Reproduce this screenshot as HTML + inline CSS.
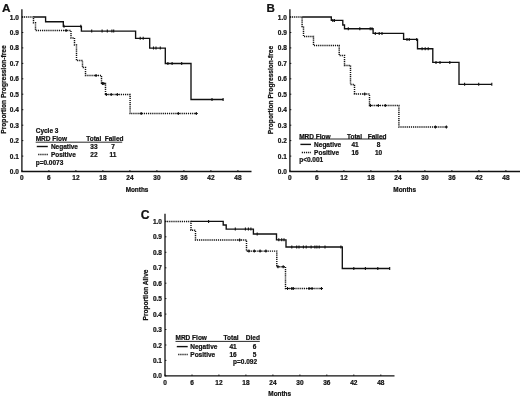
<!DOCTYPE html>
<html><head><meta charset="utf-8"><title>Figure</title>
<style>
html,body{margin:0;padding:0;background:#fff;}
body{width:520px;height:397px;overflow:hidden;}
text{stroke:#111;stroke-width:0.22px;}
svg{display:block;will-change:transform;transform:translateZ(0);font-family:"Liberation Sans",sans-serif;fill:#111;}
</style></head><body>
<svg width="520" height="397" viewBox="0 0 520 397">
<rect x="0" y="0" width="520" height="397" fill="#fff"/>
<path d="M21.9,9.2V171.5H251.5" fill="none" stroke="#111" stroke-width="1.3"/>
<text x="18.9" y="174.0" font-size="6.5" text-anchor="end" font-weight="bold" >0.0</text>
<text x="18.9" y="158.6" font-size="6.5" text-anchor="end" font-weight="bold" >0.1</text>
<text x="18.9" y="143.1" font-size="6.5" text-anchor="end" font-weight="bold" >0.2</text>
<text x="18.9" y="127.7" font-size="6.5" text-anchor="end" font-weight="bold" >0.3</text>
<text x="18.9" y="112.2" font-size="6.5" text-anchor="end" font-weight="bold" >0.4</text>
<text x="18.9" y="96.8" font-size="6.5" text-anchor="end" font-weight="bold" >0.5</text>
<text x="18.9" y="81.3" font-size="6.5" text-anchor="end" font-weight="bold" >0.6</text>
<text x="18.9" y="65.9" font-size="6.5" text-anchor="end" font-weight="bold" >0.7</text>
<text x="18.9" y="50.4" font-size="6.5" text-anchor="end" font-weight="bold" >0.8</text>
<text x="18.9" y="35.0" font-size="6.5" text-anchor="end" font-weight="bold" >0.9</text>
<text x="18.9" y="19.5" font-size="6.5" text-anchor="end" font-weight="bold" >1.0</text>
<text x="21.9" y="180.4" font-size="6.5" text-anchor="middle" font-weight="bold" >0</text>
<text x="48.9" y="180.4" font-size="6.5" text-anchor="middle" font-weight="bold" >6</text>
<text x="75.9" y="180.4" font-size="6.5" text-anchor="middle" font-weight="bold" >12</text>
<text x="102.9" y="180.4" font-size="6.5" text-anchor="middle" font-weight="bold" >18</text>
<text x="129.9" y="180.4" font-size="6.5" text-anchor="middle" font-weight="bold" >24</text>
<text x="156.9" y="180.4" font-size="6.5" text-anchor="middle" font-weight="bold" >30</text>
<text x="183.9" y="180.4" font-size="6.5" text-anchor="middle" font-weight="bold" >36</text>
<text x="210.9" y="180.4" font-size="6.5" text-anchor="middle" font-weight="bold" >42</text>
<text x="237.9" y="180.4" font-size="6.5" text-anchor="middle" font-weight="bold" >48</text>
<path d="M21.9,171.5h1.4M21.9,156.1h1.4M21.9,140.6h1.4M21.9,125.2h1.4M21.9,109.7h1.4M21.9,94.2h1.4M21.9,78.8h1.4M21.9,63.4h1.4M21.9,47.9h1.4M21.9,32.5h1.4M21.9,17.0h1.4M21.9,171.5v-1.4M48.9,171.5v-1.4M75.9,171.5v-1.4M102.9,171.5v-1.4M129.9,171.5v-1.4M156.9,171.5v-1.4M183.9,171.5v-1.4M210.9,171.5v-1.4M237.9,171.5v-1.4" fill="none" stroke="#111" stroke-width="1.0"/>
<text x="137.0" y="191.6" font-size="6.4" text-anchor="middle" font-weight="bold" >Months</text>
<text transform="translate(6.0,89.5) rotate(-90)" font-size="6.6" text-anchor="middle" font-weight="bold">Proportion Progression-free</text>
<text x="2.0" y="11.9" font-size="11.8" text-anchor="start" font-weight="bold" >A</text>
<path d="M21.9,17.0 L33.5,17.0 L33.5,22.8 L35.5,22.8 L35.5,30.5 L71.0,30.5 L71.0,37.9 L74.5,37.9 L74.5,45.0 L76.5,45.0 L76.5,60.5 L82.5,60.5 L82.5,67.5 L85.5,67.5 L85.5,75.5 L101.5,75.5 L101.5,83.5 L105.5,83.5 L105.5,94.5 L130.1,94.5 L130.1,113.5 L196.5,113.5" fill="none" stroke="#111" stroke-width="1.45" stroke-dasharray="1.2 0.9"/>
<path d="M33.6,17.0 L45.6,17.0 L45.6,21.7 L63.3,21.7 L63.3,26.3 L81.4,26.3 L81.4,31.1 L135.6,31.1 L135.6,38.3 L149.7,38.3 L149.7,48.1 L165.3,48.1 L165.3,63.5 L191.0,63.5 L191.0,99.5 L223.3,99.5" fill="none" stroke="#111" stroke-width="1.35" stroke-linejoin="miter"/>
<path d="M64.0,24.8V27.8M80.8,24.8V27.8" fill="none" stroke="#111" stroke-width="1.1"/>
<path d="M91.7,29.6V32.6M102.1,29.6V32.6M107.3,29.6V32.6M111.9,29.6V32.6M113.7,29.6V32.6" fill="none" stroke="#111" stroke-width="1.1"/>
<path d="M140.2,36.8V39.8M143.2,36.8V39.8" fill="none" stroke="#111" stroke-width="1.1"/>
<path d="M153.5,46.6V49.6M156.0,46.6V49.6M160.3,46.6V49.6" fill="none" stroke="#111" stroke-width="1.1"/>
<path d="M167.9,62.0V65.0M172.1,62.0V65.0M181.7,62.0V65.0" fill="none" stroke="#111" stroke-width="1.1"/>
<path d="M212.0,98.0V101.0M223.1,98.0V101.0" fill="none" stroke="#111" stroke-width="1.1"/>
<path d="M66.1,29.0V32.0M64.6,30.5H67.6" fill="none" stroke="#111" stroke-width="1.1"/>
<path d="M96.0,74.0V77.0M94.5,75.5H97.5" fill="none" stroke="#111" stroke-width="1.1"/>
<path d="M102.4,82.0V85.0M100.9,83.5H103.9M103.8,82.0V85.0M102.3,83.5H105.3" fill="none" stroke="#111" stroke-width="1.1"/>
<path d="M106.3,93.0V96.0M104.8,94.5H107.8M111.2,93.0V96.0M109.7,94.5H112.7M117.3,93.0V96.0M115.8,94.5H118.8" fill="none" stroke="#111" stroke-width="1.1"/>
<path d="M141.2,112.0V115.0M139.7,113.5H142.7M178.3,112.0V115.0M176.8,113.5H179.8M196.3,112.0V115.0M194.8,113.5H197.8" fill="none" stroke="#111" stroke-width="1.1"/>
<text x="35.7" y="133.1" font-size="6.5" text-anchor="start" font-weight="bold" >Cycle 3</text>
<text x="35.7" y="140.9" font-size="6.5" text-anchor="start" font-weight="bold" >MRD Flow</text>
<text x="86.2" y="140.9" font-size="6.5" text-anchor="start" font-weight="bold" >Total</text>
<text x="104.7" y="140.9" font-size="6.5" text-anchor="start" font-weight="bold" >Failed</text>
<path d="M35.7,142.2H122.2" stroke="#111" stroke-width="0.9"/>
<path d="M36.8,146.5H47.8" stroke="#111" stroke-width="1.4"/>
<text x="50.9" y="148.9" font-size="6.5" text-anchor="start" font-weight="bold" >Negative</text>
<text x="93.9" y="148.9" font-size="6.5" text-anchor="middle" font-weight="bold" >33</text>
<text x="113.0" y="148.9" font-size="6.5" text-anchor="middle" font-weight="bold" >7</text>
<path d="M38.2,154.5H47.8" stroke="#111" stroke-width="1.4" stroke-dasharray="1.2 0.9"/>
<text x="50.9" y="157.2" font-size="6.5" text-anchor="start" font-weight="bold" >Positive</text>
<text x="93.9" y="157.2" font-size="6.5" text-anchor="middle" font-weight="bold" >22</text>
<text x="113.0" y="157.2" font-size="6.5" text-anchor="middle" font-weight="bold" >11</text>
<text x="35.7" y="165.2" font-size="6.5" text-anchor="start" font-weight="bold" >p=0.0073</text>
<path d="M289.9,9.2V171.5H520.0" fill="none" stroke="#111" stroke-width="1.3"/>
<text x="286.9" y="174.0" font-size="6.5" text-anchor="end" font-weight="bold" >0.0</text>
<text x="286.9" y="158.6" font-size="6.5" text-anchor="end" font-weight="bold" >0.1</text>
<text x="286.9" y="143.1" font-size="6.5" text-anchor="end" font-weight="bold" >0.2</text>
<text x="286.9" y="127.7" font-size="6.5" text-anchor="end" font-weight="bold" >0.3</text>
<text x="286.9" y="112.2" font-size="6.5" text-anchor="end" font-weight="bold" >0.4</text>
<text x="286.9" y="96.8" font-size="6.5" text-anchor="end" font-weight="bold" >0.5</text>
<text x="286.9" y="81.3" font-size="6.5" text-anchor="end" font-weight="bold" >0.6</text>
<text x="286.9" y="65.9" font-size="6.5" text-anchor="end" font-weight="bold" >0.7</text>
<text x="286.9" y="50.4" font-size="6.5" text-anchor="end" font-weight="bold" >0.8</text>
<text x="286.9" y="35.0" font-size="6.5" text-anchor="end" font-weight="bold" >0.9</text>
<text x="286.9" y="19.5" font-size="6.5" text-anchor="end" font-weight="bold" >1.0</text>
<text x="289.9" y="180.4" font-size="6.5" text-anchor="middle" font-weight="bold" >0</text>
<text x="316.9" y="180.4" font-size="6.5" text-anchor="middle" font-weight="bold" >6</text>
<text x="343.9" y="180.4" font-size="6.5" text-anchor="middle" font-weight="bold" >12</text>
<text x="370.9" y="180.4" font-size="6.5" text-anchor="middle" font-weight="bold" >18</text>
<text x="397.9" y="180.4" font-size="6.5" text-anchor="middle" font-weight="bold" >24</text>
<text x="424.9" y="180.4" font-size="6.5" text-anchor="middle" font-weight="bold" >30</text>
<text x="451.9" y="180.4" font-size="6.5" text-anchor="middle" font-weight="bold" >36</text>
<text x="478.9" y="180.4" font-size="6.5" text-anchor="middle" font-weight="bold" >42</text>
<text x="505.9" y="180.4" font-size="6.5" text-anchor="middle" font-weight="bold" >48</text>
<path d="M289.9,171.5h1.4M289.9,156.1h1.4M289.9,140.6h1.4M289.9,125.2h1.4M289.9,109.7h1.4M289.9,94.2h1.4M289.9,78.8h1.4M289.9,63.4h1.4M289.9,47.9h1.4M289.9,32.5h1.4M289.9,17.0h1.4M289.9,171.5v-1.4M316.9,171.5v-1.4M343.9,171.5v-1.4M370.9,171.5v-1.4M397.9,171.5v-1.4M424.9,171.5v-1.4M451.9,171.5v-1.4M478.9,171.5v-1.4M505.9,171.5v-1.4" fill="none" stroke="#111" stroke-width="1.0"/>
<text x="404.7" y="191.6" font-size="6.4" text-anchor="middle" font-weight="bold" >Months</text>
<text transform="translate(273.2,90.0) rotate(-90)" font-size="6.6" text-anchor="middle" font-weight="bold">Proportion Progression-free</text>
<text x="266.6" y="11.9" font-size="11.6" text-anchor="start" font-weight="bold" >B</text>
<path d="M289.9,17.0 L302.1,17.0 L302.1,26.5 L303.5,26.5 L303.5,36.5 L313.5,36.5 L313.5,45.5 L339.2,45.5 L339.2,55.5 L344.5,55.5 L344.5,65.5 L350.5,65.5 L350.5,84.5 L354.5,84.5 L354.5,94.0 L369.5,94.0 L369.5,105.5 L398.9,105.5 L398.9,127.0 L446.5,127.0" fill="none" stroke="#111" stroke-width="1.45" stroke-dasharray="1.2 0.9"/>
<path d="M302.1,17.0 L331.3,17.0 L331.3,20.4 L342.8,20.4 L342.8,25.0 L344.5,25.0 L344.5,28.7 L373.1,28.7 L373.1,33.4 L403.6,33.4 L403.6,39.4 L417.5,39.4 L417.5,48.7 L432.8,48.7 L432.8,62.4 L459.0,62.4 L459.0,84.3 L491.8,84.3" fill="none" stroke="#111" stroke-width="1.35" stroke-linejoin="miter"/>
<path d="M332.8,18.9V21.9M334.4,18.9V21.9" fill="none" stroke="#111" stroke-width="1.1"/>
<path d="M348.3,27.2V30.2M359.8,27.2V30.2M370.2,27.2V30.2M372.0,27.2V30.2" fill="none" stroke="#111" stroke-width="1.1"/>
<path d="M375.3,31.9V34.9M379.2,31.9V34.9M382.0,31.9V34.9" fill="none" stroke="#111" stroke-width="1.1"/>
<path d="M407.0,37.9V40.9M409.2,37.9V40.9M416.7,37.9V40.9" fill="none" stroke="#111" stroke-width="1.1"/>
<path d="M422.1,47.2V50.2M425.2,47.2V50.2M428.2,47.2V50.2" fill="none" stroke="#111" stroke-width="1.1"/>
<path d="M436.0,60.9V63.9M440.0,60.9V63.9M449.8,60.9V63.9" fill="none" stroke="#111" stroke-width="1.1"/>
<path d="M464.6,82.8V85.8M478.7,82.8V85.8M491.8,82.8V85.8" fill="none" stroke="#111" stroke-width="1.1"/>
<path d="M364.7,92.5V95.5M363.2,94.0H366.2" fill="none" stroke="#111" stroke-width="1.1"/>
<path d="M370.4,104.0V107.0M368.9,105.5H371.9M378.3,104.0V107.0M376.8,105.5H379.8M385.3,104.0V107.0M383.8,105.5H386.8" fill="none" stroke="#111" stroke-width="1.1"/>
<path d="M435.4,125.5V128.5M433.9,127.0H436.9M446.4,125.5V128.5M444.9,127.0H447.9" fill="none" stroke="#111" stroke-width="1.1"/>
<text x="299.2" y="138.6" font-size="6.5" text-anchor="start" font-weight="bold" >MRD Flow</text>
<text x="347.0" y="138.6" font-size="6.5" text-anchor="start" font-weight="bold" >Total</text>
<text x="367.7" y="138.6" font-size="6.5" text-anchor="start" font-weight="bold" >Failed</text>
<path d="M299.2,139.0H386.0" stroke="#111" stroke-width="0.9"/>
<path d="M300.4,144.4H311.0" stroke="#111" stroke-width="1.4"/>
<text x="314.1" y="146.8" font-size="6.5" text-anchor="start" font-weight="bold" >Negative</text>
<text x="355.1" y="146.8" font-size="6.5" text-anchor="middle" font-weight="bold" >41</text>
<text x="378.5" y="146.8" font-size="6.5" text-anchor="middle" font-weight="bold" >8</text>
<path d="M301.8,152.5H311.0" stroke="#111" stroke-width="1.4" stroke-dasharray="1.2 0.9"/>
<text x="314.1" y="154.9" font-size="6.5" text-anchor="start" font-weight="bold" >Positive</text>
<text x="355.1" y="154.9" font-size="6.5" text-anchor="middle" font-weight="bold" >16</text>
<text x="378.5" y="154.9" font-size="6.5" text-anchor="middle" font-weight="bold" >10</text>
<text x="299.2" y="162.4" font-size="6.5" text-anchor="start" font-weight="bold" >p&lt;0.001</text>
<path d="M165.0,213.8V375.9H394.5" fill="none" stroke="#111" stroke-width="1.3"/>
<text x="162.0" y="378.4" font-size="6.5" text-anchor="end" font-weight="bold" >0.0</text>
<text x="162.0" y="362.9" font-size="6.5" text-anchor="end" font-weight="bold" >0.1</text>
<text x="162.0" y="347.5" font-size="6.5" text-anchor="end" font-weight="bold" >0.2</text>
<text x="162.0" y="332.0" font-size="6.5" text-anchor="end" font-weight="bold" >0.3</text>
<text x="162.0" y="316.6" font-size="6.5" text-anchor="end" font-weight="bold" >0.4</text>
<text x="162.0" y="301.1" font-size="6.5" text-anchor="end" font-weight="bold" >0.5</text>
<text x="162.0" y="285.7" font-size="6.5" text-anchor="end" font-weight="bold" >0.6</text>
<text x="162.0" y="270.2" font-size="6.5" text-anchor="end" font-weight="bold" >0.7</text>
<text x="162.0" y="254.8" font-size="6.5" text-anchor="end" font-weight="bold" >0.8</text>
<text x="162.0" y="239.3" font-size="6.5" text-anchor="end" font-weight="bold" >0.9</text>
<text x="162.0" y="223.9" font-size="6.5" text-anchor="end" font-weight="bold" >1.0</text>
<text x="165.0" y="385.0" font-size="6.5" text-anchor="middle" font-weight="bold" >0</text>
<text x="192.0" y="385.0" font-size="6.5" text-anchor="middle" font-weight="bold" >6</text>
<text x="218.9" y="385.0" font-size="6.5" text-anchor="middle" font-weight="bold" >12</text>
<text x="245.9" y="385.0" font-size="6.5" text-anchor="middle" font-weight="bold" >18</text>
<text x="272.9" y="385.0" font-size="6.5" text-anchor="middle" font-weight="bold" >24</text>
<text x="299.9" y="385.0" font-size="6.5" text-anchor="middle" font-weight="bold" >30</text>
<text x="326.8" y="385.0" font-size="6.5" text-anchor="middle" font-weight="bold" >36</text>
<text x="353.8" y="385.0" font-size="6.5" text-anchor="middle" font-weight="bold" >42</text>
<text x="380.8" y="385.0" font-size="6.5" text-anchor="middle" font-weight="bold" >48</text>
<path d="M165.0,375.9h1.4M165.0,360.4h1.4M165.0,345.0h1.4M165.0,329.5h1.4M165.0,314.1h1.4M165.0,298.6h1.4M165.0,283.2h1.4M165.0,267.8h1.4M165.0,252.3h1.4M165.0,236.8h1.4M165.0,221.4h1.4M165.0,375.9v-1.4M192.0,375.9v-1.4M218.9,375.9v-1.4M245.9,375.9v-1.4M272.9,375.9v-1.4M299.9,375.9v-1.4M326.8,375.9v-1.4M353.8,375.9v-1.4M380.8,375.9v-1.4" fill="none" stroke="#111" stroke-width="1.0"/>
<text x="279.7" y="395.6" font-size="6.4" text-anchor="middle" font-weight="bold" >Months</text>
<text transform="translate(148.0,295.0) rotate(-90)" font-size="6.6" text-anchor="middle" font-weight="bold">Proportion Alive</text>
<text x="140.8" y="219.0" font-size="12.2" text-anchor="start" font-weight="bold" >C</text>
<path d="M165.0,221.5 L191.0,221.5 L191.0,230.2 L195.5,230.2 L195.5,240.0 L246.5,240.0 L246.5,251.1 L276.8,251.1 L276.8,266.8 L285.5,266.8 L285.5,288.5 L322.1,288.5" fill="none" stroke="#111" stroke-width="1.45" stroke-dasharray="1.2 0.9"/>
<path d="M191.0,221.4 L223.2,221.4 L223.2,225.0 L226.2,225.0 L226.2,229.1 L253.4,229.1 L253.4,234.0 L276.5,234.0 L276.5,239.8 L286.0,239.8 L286.0,247.0 L342.3,247.0 L342.3,268.5 L389.9,268.5" fill="none" stroke="#111" stroke-width="1.35" stroke-linejoin="miter"/>
<path d="M208.6,219.9V222.9" fill="none" stroke="#111" stroke-width="1.1"/>
<path d="M235.3,227.6V230.6M245.4,227.6V230.6M248.4,227.6V230.6M250.9,227.6V230.6" fill="none" stroke="#111" stroke-width="1.1"/>
<path d="M257.2,232.5V235.5" fill="none" stroke="#111" stroke-width="1.1"/>
<path d="M278.8,238.3V241.3M281.7,238.3V241.3M284.0,238.3V241.3" fill="none" stroke="#111" stroke-width="1.1"/>
<path d="M291.8,245.5V248.5M296.7,245.5V248.5M299.0,245.5V248.5M303.4,245.5V248.5M306.2,245.5V248.5M311.1,245.5V248.5M314.9,245.5V248.5M316.9,245.5V248.5M319.2,245.5V248.5M325.0,245.5V248.5M340.9,245.5V248.5" fill="none" stroke="#111" stroke-width="1.1"/>
<path d="M353.8,267.0V270.0M365.4,267.0V270.0M377.8,267.0V270.0M389.7,267.0V270.0" fill="none" stroke="#111" stroke-width="1.1"/>
<path d="M239.6,238.5V241.5M238.1,240.0H241.1" fill="none" stroke="#111" stroke-width="1.1"/>
<path d="M248.9,249.6V252.6M247.4,251.1H250.4M254.3,249.6V252.6M252.8,251.1H255.8M260.1,249.6V252.6M258.6,251.1H261.6M265.9,249.6V252.6M264.4,251.1H267.4" fill="none" stroke="#111" stroke-width="1.1"/>
<path d="M278.0,265.3V268.3M276.5,266.8H279.5M283.2,265.3V268.3M281.7,266.8H284.7" fill="none" stroke="#111" stroke-width="1.1"/>
<path d="M287.5,287.0V290.0M286.0,288.5H289.0M291.8,287.0V290.0M290.3,288.5H293.3M293.3,287.0V290.0M291.8,288.5H294.8M309.1,287.0V290.0M307.6,288.5H310.6M312.0,287.0V290.0M310.5,288.5H313.5M321.5,287.0V290.0M320.0,288.5H323.0" fill="none" stroke="#111" stroke-width="1.1"/>
<text x="175.5" y="340.2" font-size="6.5" text-anchor="start" font-weight="bold" >MRD Flow</text>
<text x="223.6" y="340.2" font-size="6.5" text-anchor="start" font-weight="bold" >Total</text>
<text x="245.8" y="340.2" font-size="6.5" text-anchor="start" font-weight="bold" >Died</text>
<path d="M175.5,341.4H259.8" stroke="#111" stroke-width="0.9"/>
<path d="M176.8,346.6H187.7" stroke="#111" stroke-width="1.4"/>
<text x="190.3" y="349.0" font-size="6.5" text-anchor="start" font-weight="bold" >Negative</text>
<text x="233.0" y="349.0" font-size="6.5" text-anchor="middle" font-weight="bold" >41</text>
<text x="254.6" y="349.0" font-size="6.5" text-anchor="middle" font-weight="bold" >6</text>
<path d="M178.2,354.5H187.7" stroke="#111" stroke-width="1.4" stroke-dasharray="1.2 0.9"/>
<text x="190.3" y="356.5" font-size="6.5" text-anchor="start" font-weight="bold" >Positive</text>
<text x="233.0" y="356.5" font-size="6.5" text-anchor="middle" font-weight="bold" >16</text>
<text x="254.6" y="356.5" font-size="6.5" text-anchor="middle" font-weight="bold" >5</text>
<text x="233.0" y="364.4" font-size="6.5" text-anchor="start" font-weight="bold" >p=0.092</text>
</svg>
</body></html>
